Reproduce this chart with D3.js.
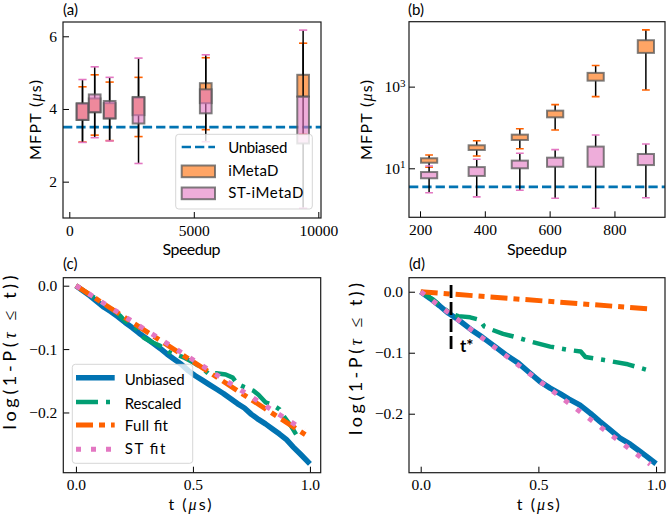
<!DOCTYPE html>
<html><head><meta charset="utf-8">
<script src="https://cdn.jsdelivr.net/npm/d3@7"></script>
<style>body{margin:0;background:#fff}</style>
</head><body><svg id="chart" width="667" height="517"></svg>
<script>
// ---------------- DATA ----------------
// Panel (a): speedup positions and box statistics (MFPT, microseconds)
const speedupA = [530, 1020, 1620, 2780, 5480, 9390];
const imetaA_lo = [3.09, 3.28, 3.13, 3.24, 3.43, 3.30];
const imetaA_q1 = [3.70, 3.91, 3.74, 3.83, 4.16, 4.34];
const imetaA_q3 = [4.14, 4.29, 4.16, 4.31, 4.71, 4.94];
const imetaA_hi = [4.61, 4.94, 4.74, 4.87, 5.41, 5.81];
const stA_lo = [3.08, 3.21, 3.12, 2.50, 3.10, 1.27];
const stA_q1 = [3.70, 3.91, 3.74, 3.60, 3.88, 3.05];
const stA_q3 = [4.16, 4.40, 4.22, 4.33, 4.54, 4.34];
const stA_hi = [4.81, 5.16, 4.87, 5.40, 5.49, 6.17];
// Panel (b)
const speedupB = [228, 375, 508, 617, 742, 897];
const imetaB_lo = [10.6, 20, 30.2, 87, 570, 830];
const imetaB_q1 = [13.7, 28.1, 49.4, 177, 1400, 6700];
const imetaB_q3 = [17.6, 36.6, 66.7, 258, 2170, 13700];
const imetaB_hi = [21.2, 47.4, 93, 362, 3300, 24500];
const stB_lo = [2.52, 2.0, 2.9, 1.84, 1.05, 1.9];
const stB_q1 = [5.7, 6.5, 10.0, 10.9, 10.9, 12.0];
const stB_q3 = [8.1, 10.7, 15.4, 18.2, 34.0, 22.4];
const stB_hi = [11.4, 16.6, 23.3, 28.6, 65.5, 39.4];
const unbiasedMFPT = 3.5;
// Panel (c): log survival vs time
const unbCT = [0,0.03,0.06,0.09,0.12,0.15,0.18,0.21,0.24,0.27,0.30,0.33,0.36,0.39,0.42,0.45,0.48,0.51,0.54,0.57,0.60,0.63,0.66,0.69,0.72,0.75,0.78,0.81,0.84,0.87,0.90,0.93,0.96,1.0];
const unbCV = [0,-0.008,-0.016,-0.025,-0.034,-0.041,-0.049,-0.058,-0.066,-0.075,-0.083,-0.091,-0.099,-0.108,-0.116,-0.124,-0.134,-0.142,-0.149,-0.156,-0.163,-0.170,-0.178,-0.186,-0.193,-0.203,-0.211,-0.218,-0.226,-0.234,-0.243,-0.255,-0.266,-0.281];
const resCT = [0,0.05,0.10,0.15,0.19,0.21,0.26,0.29,0.33,0.36,0.40,0.43,0.46,0.50,0.54,0.57,0.60,0.64,0.67,0.69,0.72,0.76,0.78,0.81,0.84,0.87,0.89,0.92,0.95];
const resCV = [0,-0.012,-0.024,-0.036,-0.048,-0.056,-0.068,-0.082,-0.090,-0.095,-0.105,-0.109,-0.113,-0.121,-0.130,-0.140,-0.138,-0.140,-0.145,-0.155,-0.160,-0.166,-0.172,-0.184,-0.188,-0.195,-0.207,-0.222,-0.240];
const fullCT = [0, 0.98], fullCV = [0, -0.235];
const stCT = [0, 0.975], stCV = [0, -0.228];
// Panel (d)
const unbDT = [0,0.04,0.08,0.117,0.16,0.217,0.26,0.316,0.36,0.415,0.46,0.507,0.55,0.592,0.63,0.677,0.72,0.762,0.80,0.847,0.89,0.932,0.96,1.0];
const unbDV = [0,-0.011,-0.023,-0.035,-0.046,-0.063,-0.074,-0.090,-0.103,-0.117,-0.132,-0.1475,-0.158,-0.167,-0.176,-0.186,-0.199,-0.213,-0.225,-0.240,-0.250,-0.262,-0.270,-0.282];
const resDT = [0,0.05,0.10,0.13,0.16,0.21,0.25,0.27,0.30,0.35,0.40,0.47,0.55,0.63,0.68,0.70,0.78,0.88,0.96];
const resDV = [0,-0.012,-0.028,-0.036,-0.040,-0.042,-0.046,-0.057,-0.062,-0.069,-0.074,-0.082,-0.090,-0.0955,-0.098,-0.107,-0.112,-0.119,-0.128];
const fullDT = [0, 0.965], fullDV = [0, -0.028];
const stDT = [0, 0.975], stDV = [0, -0.283];
const tStar = 0.129, tStarRange = [0.011, -0.098];
// ticks
const ticksAx = [0, 5000, 10000], ticksAxL = ["0", "5000", "10000"];
const ticksAy = [2, 4, 6], ticksAyL = ["2", "4", "6"];
const ticksBx = [200, 400, 600, 800], ticksBxL = ["200", "400", "600", "800"];
const ticksBy = [10, 1000], ticksByExp = ["1", "3"];
const ticksT = [0, 0.5, 1.0], ticksTL = ["0.0", "0.5", "1.0"];
const ticksL = [0, -0.1, -0.2], ticksLL = ["0.0", "\u22120.1", "\u22120.2"];

// ---------------- STYLE ----------------
const C = {blue:'#0173b2', green:'#029e73', orange:'#fe6100', pink:'#e377c2',
  boxOrange:'#ff7512', boxPink:'#e377c2'};
const SERIF = "'Liberation Serif', serif";
const SANS = "Lato, 'DejaVu Sans', sans-serif";

const svg = d3.select('#chart');
const defs = svg.append('defs');

const RA = {x0:63, x1:321, y0:22, y1:218};
const RB = {x0:409, x1:665, y0:21.7, y1:217.3};
const RC = {x0:63.3, x1:320.7, y0:277.7, y1:472.7};
const RD = {x0:409, x1:665, y0:277.7, y1:472.7};

const xA = d3.scaleLinear().domain([-253, 10108]).range([RA.x0, RA.x1]);
const yA = d3.scaleLinear().domain([1.0, 6.393]).range([RA.y1, RA.y0]);
const xB = d3.scaleLinear().domain([166, 956]).range([RB.x0, RB.x1]);
const yB = d3.scaleLog().domain([Math.pow(10,-0.2), Math.pow(10,4.59)]).range([RB.y1, RB.y0]);
const xC = d3.scaleLinear().domain([-0.054, 1.046]).range([RC.x0, RC.x1]);
const yC = d3.scaleLinear().domain([-0.295, 0.0126]).range([RC.y1, RC.y0]);
const xD = d3.scaleLinear().domain([-0.0497, 1.038]).range([RD.x0, RD.x1]);
const yD = d3.scaleLinear().domain([-0.2967, 0.023]).range([RD.y1, RD.y0]);

function styleAxis(s){
  s.select('.domain').remove();
  s.selectAll('.tick line').attr('stroke','#000').attr('stroke-width',1);
  s.selectAll('.tick text').attr('font-family',SERIF).attr('font-size',15.5).attr('fill','#000');
}
function clip(id, r){
  defs.append('clipPath').attr('id',id).append('rect')
    .attr('x',r.x0).attr('y',r.y0).attr('width',r.x1-r.x0).attr('height',r.y1-r.y0);
  return svg.append('g').attr('clip-path',`url(#${id})`);
}
function axes(r, xs, ys, xt, xtl, yt, ytl, ypad){
  svg.append('g').attr('transform',`translate(0,${r.y1})`)
    .call(d3.axisBottom(xs).tickValues(xt).tickFormat((d,i)=>xtl[i]).tickSizeInner(-6).tickSizeOuter(0).tickPadding(6.5))
    .call(styleAxis);
  const gy = svg.append('g').attr('transform',`translate(${r.x0},0)`)
    .call(d3.axisLeft(ys).tickValues(yt).tickFormat((d,i)=>ytl ? ytl[i] : '').tickSizeInner(-6).tickSizeOuter(0).tickPadding(ypad))
    .call(styleAxis);
  return gy;
}
function frame(r){
  svg.append('rect').attr('x',r.x0).attr('y',r.y0).attr('width',r.x1-r.x0).attr('height',r.y1-r.y0)
    .attr('fill','none').attr('stroke','#1a1a1a').attr('stroke-width',1.2);
}
function label(x, y, txt, opts){
  const t = svg.append('text').attr('x',x).attr('y',y).attr('font-family',SANS)
    .attr('font-size',opts.size||16).attr('fill','#000');
  if (opts.anchor) t.attr('text-anchor',opts.anchor);
  if (opts.rot) t.attr('transform',`rotate(-90,${x},${y})`);
  if (opts.bold) t.attr('font-weight','bold');
  txt.forEach(p => {
    const s = t.append('tspan').text(p.t);
    if (p.it) s.attr('font-family',SERIF).attr('font-style','italic');
    if (p.serif) s.attr('font-family',SERIF);
  });
  if (opts.len) t.attr('textLength',opts.len).attr('lengthAdjust','spacing');
  return t;
}

function drawBoxes(g, xs, ys, pos, lo, q1, q3, hi, boxW, capW, fill, fillOp, capCol){
  pos.forEach((p,i)=>{
    g.append('line').attr('x1',xs(p)).attr('x2',xs(p)).attr('y1',ys(q1[i])).attr('y2',ys(lo[i]))
      .attr('stroke','#000').attr('stroke-width',1.5);
    g.append('line').attr('x1',xs(p)).attr('x2',xs(p)).attr('y1',ys(q3[i])).attr('y2',ys(hi[i]))
      .attr('stroke','#000').attr('stroke-width',1.5);
    [lo[i], hi[i]].forEach(v=>{
      g.append('line').attr('x1',xs(p-capW/2)).attr('x2',xs(p+capW/2)).attr('y1',ys(v)).attr('y2',ys(v))
        .attr('stroke',capCol).attr('stroke-width',1.6);
    });
    g.append('rect').attr('x',xs(p-boxW/2)).attr('width',xs(p+boxW/2)-xs(p-boxW/2))
      .attr('y',ys(q3[i])).attr('height',ys(q1[i])-ys(q3[i]))
      .attr('fill',fill).attr('fill-opacity',fillOp)
      .attr('stroke','#555').attr('stroke-opacity',0.75).attr('stroke-width',2);
  });
}

// ---------- Panel (a) ----------
{
  const g = clip('clipA', RA);
  g.append('line').attr('x1',RA.x0).attr('x2',RA.x1).attr('y1',yA(unbiasedMFPT)).attr('y2',yA(unbiasedMFPT))
    .attr('stroke',C.blue).attr('stroke-width',2.6).attr('stroke-dasharray','9.3,4');
  drawBoxes(g, xA, yA, speedupA, imetaA_lo, imetaA_q1, imetaA_q3, imetaA_hi, 470, 330, C.boxOrange, 0.65, C.orange);
  drawBoxes(g, xA, yA, speedupA, stA_lo, stA_q1, stA_q3, stA_hi, 470, 330, C.boxPink, 0.6, C.pink);
  axes(RA, xA, yA, ticksAx, ticksAxL, ticksAy, ticksAyL, 6);
  svg.append('rect').attr('x',175.7).attr('y',134.3).attr('width',136.6).attr('height',74.7).attr('rx',3)
    .attr('fill','#fff').attr('fill-opacity',0.8).attr('stroke','#ccc').attr('stroke-opacity',0.8);
  svg.append('line').attr('x1',181.7).attr('x2',215).attr('y1',147).attr('y2',147)
    .attr('stroke',C.blue).attr('stroke-width',2.6).attr('stroke-dasharray','9.3,4');
  svg.append('rect').attr('x',181.7).attr('y',165.5).attr('width',33.3).attr('height',11.7)
    .attr('fill',C.boxOrange).attr('fill-opacity',0.65).attr('stroke','#555').attr('stroke-opacity',0.75).attr('stroke-width',2);
  svg.append('rect').attr('x',181.7).attr('y',187.5).attr('width',33.3).attr('height',11.7)
    .attr('fill',C.boxPink).attr('fill-opacity',0.6).attr('stroke','#555').attr('stroke-opacity',0.75).attr('stroke-width',2);
  label(228.3, 152.5, [{t:'Unbiased'}], {size:15, len:59});
  label(228.3, 175.5, [{t:'iMetaD'}], {size:15, len:50});
  label(228.3, 198, [{t:'ST-iMetaD'}], {size:15, len:75});
  frame(RA);
  label(63, 15, [{t:'(a)'}], {size:15});
  label(191.5, 255, [{t:'Speedup'}], {size:16, anchor:'middle', len:58});
  label(41, 120, [{t:'MFPT ('},{t:'\u03bc', it:true},{t:'s)'}], {size:16, anchor:'middle', rot:true, len:80});
}

// ---------- Panel (b) ----------
{
  const g = clip('clipB', RB);
  g.append('line').attr('x1',RB.x0).attr('x2',RB.x1).attr('y1',yB(unbiasedMFPT)).attr('y2',yB(unbiasedMFPT))
    .attr('stroke',C.blue).attr('stroke-width',2.6).attr('stroke-dasharray','9.3,4');
  drawBoxes(g, xB, yB, speedupB, imetaB_lo, imetaB_q1, imetaB_q3, imetaB_hi, 50, 24, C.boxOrange, 0.65, C.orange);
  drawBoxes(g, xB, yB, speedupB, stB_lo, stB_q1, stB_q3, stB_hi, 50, 24, C.boxPink, 0.6, C.pink);
  const gy = axes(RB, xB, yB, ticksBx, ticksBxL, ticksBy, null, 3.5);
  gy.selectAll('.tick text').each(function(d,i){
    const t = d3.select(this);
    t.text(null);
    t.append('tspan').text('10');
    t.append('tspan').attr('dy','-0.5em').attr('font-size',11).text(ticksByExp[i]);
  });
  frame(RB);
  label(408, 15, [{t:'(b)'}], {size:15});
  label(537, 255, [{t:'Speedup'}], {size:16, anchor:'middle', len:60});
  label(372, 120, [{t:'MFPT ('},{t:'\u03bc', it:true},{t:'s)'}], {size:16, anchor:'middle', rot:true, len:80});
}

function drawLine(g, xs, ys, T, V, s){
  const line = d3.line().x((d,i)=>xs(T[i])).y((d,i)=>ys(V[i]));
  const p = g.append('path').attr('d', line(T)).attr('fill','none').attr('stroke',s.c)
    .attr('stroke-width',s.w).attr('stroke-linejoin','round');
  if (s.d) p.attr('stroke-dasharray',s.d);
  return p;
}
const STY = {
  unb: {c:C.blue, w:5.5, d:null},
  res: {c:C.green, w:4.5, d:'22,8,4,8'},
  full:{c:C.orange, w:5, d:'17,6,6,6'},
  st:  {c:C.pink, w:5, d:'5,10'}
};

// ---------- Panel (c) ----------
{
  const g = clip('clipC', RC);
  drawLine(g, xC, yC, unbCT, unbCV, STY.unb);
  drawLine(g, xC, yC, resCT, resCV, STY.res);
  drawLine(g, xC, yC, fullCT, fullCV, STY.full);
  drawLine(g, xC, yC, stCT, stCV, STY.st);
  axes(RC, xC, yC, ticksT, ticksTL, ticksL, ticksLL, 6);
  svg.append('rect').attr('x',72.3).attr('y',364.3).attr('width',120.4).attr('height',99).attr('rx',3)
    .attr('fill','#fff').attr('fill-opacity',0.8).attr('stroke','#ccc').attr('stroke-opacity',0.8);
  const names = ['Unbiased','Rescaled','Full fit','ST fit'];
  const keys = ['unb','res','full','st'];
  const lens = [60, 56.7, 43.3, 40.7];
  const hy = [377.7, 402, 425, 449.3];
  const by = [385, 408.5, 431, 454.3];
  keys.forEach((k,i)=>{
    const s = STY[k];
    const l = svg.append('line').attr('x1',76).attr('x2',114.7).attr('y1',hy[i]).attr('y2',hy[i])
      .attr('stroke',s.c).attr('stroke-width',s.w);
    if (s.d) l.attr('stroke-dasharray',s.d);
    label(124.7, by[i], [{t:names[i]}], {size:15, len:lens[i]});
  });
  frame(RC);
  label(63, 269, [{t:'(c)'}], {size:15});
  label(190, 510, [{t:'t ('},{t:'\u03bc', it:true},{t:'s)'}], {size:16, anchor:'middle', len:43});
  label(16.5, 352.4, [{t:'log(1-P('},{t:'\u03c4', it:true},{t:'  \u2264  ', serif:true},{t:'t))'}], {size:18, anchor:'middle', rot:true, len:154});
}

// ---------- Panel (d) ----------
{
  const g = clip('clipD', RD);
  drawLine(g, xD, yD, unbDT, unbDV, STY.unb);
  drawLine(g, xD, yD, resDT, resDV, STY.res);
  drawLine(g, xD, yD, fullDT, fullDV, STY.full);
  drawLine(g, xD, yD, stDT, stDV, STY.st);
  g.append('line').attr('x1',xD(tStar)).attr('x2',xD(tStar)).attr('y1',yD(tStarRange[0])).attr('y2',yD(tStarRange[1]))
    .attr('stroke','#000').attr('stroke-width',2.8).attr('stroke-dasharray','13,4');
  axes(RD, xD, yD, ticksT, ticksTL, ticksL, ticksLL, 6);
  frame(RD);
  label(460, 352, [{t:'t*'}], {size:17, bold:true});
  label(409, 269, [{t:'(d)'}], {size:15});
  label(538.3, 510, [{t:'t ('},{t:'\u03bc', it:true},{t:'s)'}], {size:16, anchor:'middle', len:43});
  label(362, 359, [{t:'log(1-P('},{t:'\u03c4', it:true},{t:'  \u2264  ', serif:true},{t:'t))'}], {size:18, anchor:'middle', rot:true, len:152});
}
</script>
</body></html>
